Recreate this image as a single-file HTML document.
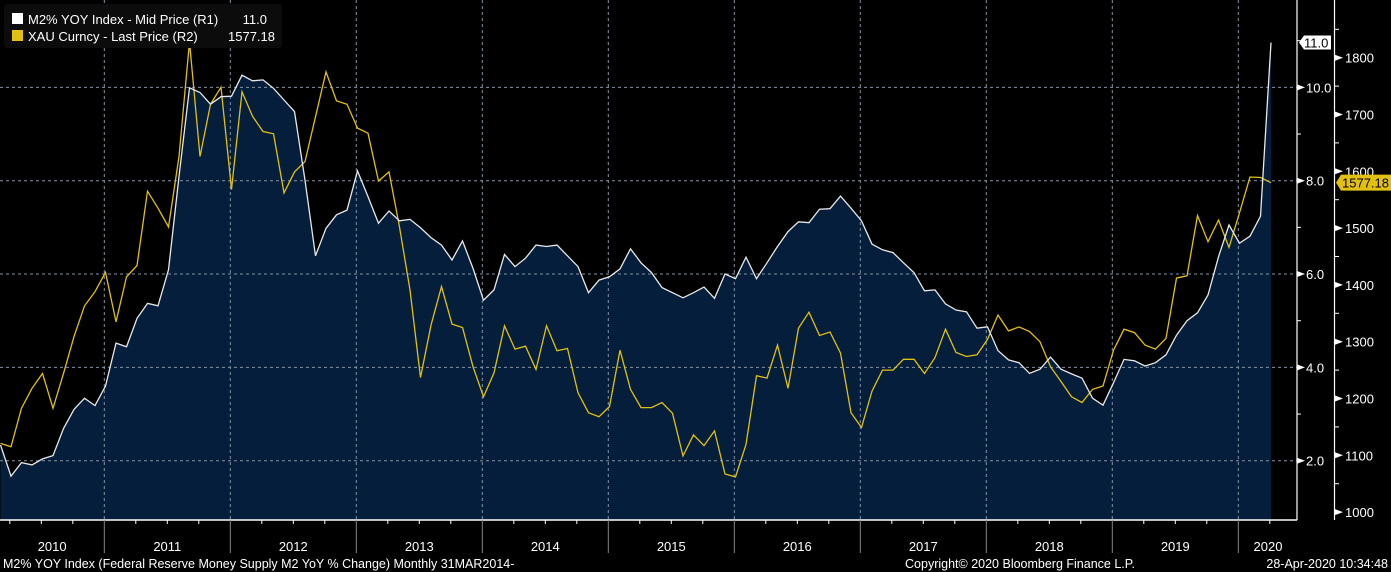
<!DOCTYPE html>
<html><head><meta charset="utf-8">
<style>
html,body{margin:0;padding:0;background:#000;width:1391px;height:572px;overflow:hidden}
svg{display:block}
text{font-family:"Liberation Sans",sans-serif}
</style></head>
<body>
<svg id="chart" width="1391" height="572" xmlns="http://www.w3.org/2000/svg">
<rect width="1391" height="572" fill="#000"/>
<g id="fill"></g><g id="grid"></g><g id="lines"></g><g id="axes"></g>
<g>
<rect x="4" y="4" width="278" height="44" rx="3" fill="#0c0c0c"/>
<rect x="12" y="13" width="11" height="11" fill="#fff"/>
<text x="28" y="24" fill="#fff" font-size="13">M2% YOY Index - Mid Price (R1)</text>
<text x="267" y="24" fill="#fff" font-size="13" text-anchor="end">11.0</text>
<rect x="12" y="30" width="11" height="11" fill="#e2c012"/>
<text x="28" y="41" fill="#fff" font-size="13">XAU Curncy - Last Price (R2)</text>
<text x="275" y="41" fill="#fff" font-size="13" text-anchor="end">1577.18</text>
</g>
<text x="3" y="568" fill="#fff" font-size="12.5">M2% YOY Index (Federal Reserve Money Supply M2 YoY % Change)  Monthly 31MAR2014-</text>
<text x="1020" y="568" fill="#fff" font-size="12.5" text-anchor="middle">Copyright© 2020 Bloomberg Finance L.P.</text>
<text x="1388" y="568" fill="#fff" font-size="12.5" text-anchor="end">28-Apr-2020 10:34:48</text>
</svg>
<script>
const years = ["2010","2011","2012","2013","2014","2015","2016","2017","2018","2019","2020"];
const m2Ticks = [2,4,6,8,10];
const goldTicks = [1000,1100,1200,1300,1400,1500,1600,1700,1800];
const m2Values = [2.34,1.67,1.96,1.91,2.04,2.11,2.69,3.10,3.34,3.18,3.60,4.52,4.44,5.05,5.37,5.32,6.09,8.09,9.99,9.89,9.64,9.80,9.81,10.26,10.14,10.16,9.98,9.73,9.48,8.01,6.39,6.98,7.27,7.37,8.21,7.66,7.09,7.35,7.14,7.17,6.99,6.78,6.62,6.30,6.71,6.12,5.44,5.66,6.42,6.16,6.34,6.62,6.59,6.62,6.39,6.16,5.60,5.87,5.94,6.11,6.54,6.24,6.03,5.71,5.60,5.49,5.60,5.72,5.48,6.00,5.90,6.36,5.90,6.24,6.59,6.91,7.12,7.10,7.39,7.40,7.67,7.41,7.14,6.64,6.52,6.46,6.24,6.03,5.64,5.66,5.36,5.23,5.19,4.84,4.87,4.36,4.16,4.10,3.87,3.96,4.22,3.96,3.86,3.77,3.34,3.19,3.67,4.17,4.14,4.03,4.10,4.27,4.69,5.00,5.17,5.55,6.37,7.05,6.66,6.81,7.24,10.96];
const goldValues = [1121,1115,1183,1218,1244,1183,1244,1309,1363,1388,1422,1335,1414,1434,1565,1535,1502,1626,1828,1626,1718,1748,1568,1740,1697,1670,1666,1562,1599,1617,1696,1775,1724,1718,1676,1667,1583,1599,1502,1391,1237,1329,1397,1331,1325,1256,1203,1245,1328,1287,1292,1251,1328,1284,1288,1210,1175,1168,1186,1285,1216,1184,1184,1193,1174,1099,1136,1117,1143,1067,1062,1119,1240,1236,1294,1218,1324,1352,1311,1317,1280,1175,1149,1213,1250,1250,1269,1269,1244,1272,1322,1281,1274,1277,1304,1347,1319,1326,1318,1300,1256,1230,1203,1193,1216,1222,1285,1322,1316,1294,1287,1306,1412,1416,1522,1476,1514,1466,1527,1590,1589,1580];

const NS="http://www.w3.org/2000/svg";
const BOTTOM=520, RIGHT=1297;
const xIdx=i=>0.5+i*10.5;           // monthly index from Feb 2010
const xYear=k=>-21.7+k*126;         // Jan of years[k]
const yM2=v=>180.7-(v-8)*46.67;
const yGold=p=>57.7-(p-1800)*0.568;
function mk(tag,attrs,parent){const e=document.createElementNS(NS,tag);for(const k in attrs)e.setAttribute(k,attrs[k]);parent.appendChild(e);return e;}
const G=id=>document.getElementById(id);

// area fill
let d="M"+xIdx(0)+","+BOTTOM;
m2Values.forEach((v,i)=>{d+=" L"+xIdx(i).toFixed(1)+","+yM2(v).toFixed(1);});
d+=" L"+xIdx(m2Values.length-1)+","+BOTTOM+" Z";
const area=mk("path",{d:d,fill:"#041e3b"},G("fill"));



// grid
m2Ticks.forEach(t=>{const l=mk("line",{x1:0,x2:RIGHT,y1:yM2(t),y2:yM2(t),stroke:"#8593a3","stroke-width":1,"stroke-dasharray":"3,3"},G("grid"));

});
for(let k=1;k<years.length;k++){const x=xYear(k);const l=mk("line",{x1:x,x2:x,y1:0,y2:BOTTOM,stroke:"#8593a3","stroke-width":1,"stroke-dasharray":"3,3"},G("grid"));

}

// lines
const gp=mk("polyline",{points:goldValues.map((v,i)=>xIdx(i).toFixed(1)+","+yGold(v).toFixed(1)).join(" "),fill:"none",stroke:"#e2c012","stroke-width":1.3},G("lines"));


const mp=mk("polyline",{points:m2Values.map((v,i)=>xIdx(i).toFixed(1)+","+yM2(v).toFixed(1)).join(" "),fill:"none",stroke:"#e8e8e8","stroke-width":1.3},G("lines"));



// axes
const A=G("axes");
mk("line",{x1:0,x2:RIGHT,y1:BOTTOM,y2:BOTTOM,stroke:"#fff","stroke-width":1.5},A);
mk("line",{x1:RIGHT,x2:RIGHT,y1:0,y2:BOTTOM,stroke:"#fff","stroke-width":1.2},A);
mk("line",{x1:1334.5,x2:1334.5,y1:0,y2:520,stroke:"#fff","stroke-width":1.2},A);
for(let k=0;k<years.length;k++){
  for(let q=1;q<4;q++){const x=xYear(k)+q*31.5;if(x>0&&x<RIGHT)mk("line",{x1:x,x2:x,y1:BOTTOM,y2:BOTTOM+4,stroke:"#fff"},A);}
  if(k>0){mk("line",{x1:xYear(k),x2:xYear(k),y1:BOTTOM,y2:553,stroke:"#888"},A);}
  const start=Math.max(0,xYear(k)), end=Math.min(1297,xYear(k+1));
  const cx=k==years.length-1?1268:(start+end)/2;
  const t=mk("text",{x:cx,y:551,fill:"#fff","font-size":13,"text-anchor":"middle"},A);t.textContent=years[k];
  
  
}
m2Ticks.forEach(v=>{const y=yM2(v);
  mk("path",{d:`M${RIGHT},${y-3} L${RIGHT+8},${y} L${RIGHT},${y+3} Z`,fill:"#fff"},A);
  const t=mk("text",{x:1306,y:y+5,fill:"#fff","font-size":13},A);t.textContent=v.toFixed(1);
  
  });
[3,5,7,9,11].forEach(v=>{const y=yM2(v);mk("line",{x1:RIGHT,x2:RIGHT+4,y1:y,y2:y,stroke:"#fff"},A);});
goldTicks.forEach(p=>{const y=yGold(p);
  mk("path",{d:`M1335,${y-3} L1343,${y} L1335,${y+3} Z`,fill:"#fff"},A);
  mk("line",{x1:1335,x2:1339,y1:yGold(p+50),y2:yGold(p+50),stroke:"#fff"},A);
  const t=mk("text",{x:1345,y:y+5,fill:"#fff","font-size":13},A);t.textContent=p;
  
  });

// last value tags
const ly=yM2(m2Values[m2Values.length-1]);
const tag1=mk("g",{},A);


mk("path",{d:`M1299,${ly} L1304,${ly-7} L1331,${ly-7} L1331,${ly+7} L1304,${ly+7} Z`,fill:"#fff"},tag1);
mk("text",{x:1304,y:ly+5,fill:"#000","font-size":13},tag1).textContent=m2Values[m2Values.length-1].toFixed(1);
const gy=yGold(goldValues[goldValues.length-1]);
const tag2=mk("g",{},A);


mk("path",{d:`M1336,${gy} L1341,${gy-8} L1391,${gy-8} L1391,${gy+8} L1341,${gy+8} Z`,fill:"#e2c012"},tag2);
mk("text",{x:1342,y:gy+5,fill:"#000","font-size":13},tag2).textContent="1577.18";
</script>
</body></html>
